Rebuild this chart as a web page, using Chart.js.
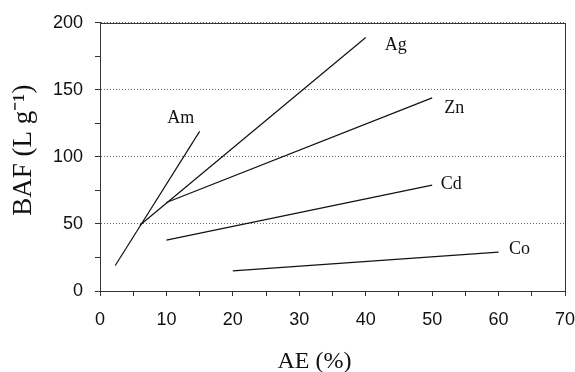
<!DOCTYPE html>
<html>
<head>
<meta charset="utf-8">
<script src="https://cdn.jsdelivr.net/npm/chart.js@4/dist/chart.umd.min.js"></script>
<style>
  html, body { margin: 0; padding: 0; background: #fff; }
  #wrap { width: 575px; height: 372px; }
</style>
</head>
<body>
<div id="wrap"><canvas id="chart-area"></canvas></div>
<script>
// series: AE (%) -> BAF (L g-1)
var elements = ['Am', 'Ag', 'Zn', 'Cd', 'Co'];
var amAE = [2.3, 15];
var amBAF = [19, 119];
var agAE = [6, 40];
var agBAF = [49, 189];
var znAE = [10, 50];
var znBAF = [66, 144];
var cdAE = [10, 50];
var cdBAF = [38, 79];
var coAE = [20, 60];
var coBAF = [15, 29];

// label offset from the line end, in px
var labelShift = {
  Am: [-19, -13],
  Ag: [30, 8],
  Zn: [22, 10],
  Cd: [19, -1],
  Co: [21, -3]
};

function pts(xs, ys) {
  return xs.map(function (x, i) { return { x: x, y: ys[i] }; });
}

var series = [pts(amAE, amBAF), pts(agAE, agBAF), pts(znAE, znBAF), pts(cdAE, cdBAF), pts(coAE, coBAF)];

var lineLabels = {
  id: 'lineLabels',
  afterDatasetsDraw: function (chart) {
    var ctx = chart.ctx;
    var xs = chart.scales.x, ys = chart.scales.y;
    ctx.save();
    ctx.fillStyle = '#111';
    ctx.font = '18px "Liberation Serif", "Times New Roman", serif';
    ctx.textAlign = 'center';
    ctx.textBaseline = 'middle';
    chart.data.datasets.forEach(function (ds) {
      var last = ds.data[ds.data.length - 1];
      var s = labelShift[ds.label];
      ctx.fillText(ds.label, xs.getPixelForValue(last.x) + s[0], ys.getPixelForValue(last.y) + s[1]);
    });
    // frame
    var a = chart.chartArea;
    ctx.strokeStyle = '#333';
    ctx.lineWidth = 1;
    ctx.strokeRect(Math.round(a.left) + 0.5, Math.round(a.top) + 0.5, Math.round(a.right - a.left), Math.round(a.bottom - a.top));
    ctx.restore();
  }
};

var tickFont = { family: '"Liberation Sans", Arial, sans-serif', size: 18 };

var config = {
  type: 'scatter',
  data: {
    datasets: series.map(function (d, i) {
      return {
        label: elements[i],
        data: d,
        showLine: true,
        borderColor: '#111',
        borderWidth: 1.2,
        pointRadius: 0,
        fill: false
      };
    })
  },
  options: {
    responsive: true,
    maintainAspectRatio: false,
    animation: false,
    layout: { padding: { top: 20, right: 0, left: 0, bottom: 0 } },
    plugins: {
      legend: { display: false },
      tooltip: { enabled: false }
    },
    scales: {
      x: {
        type: 'linear',
        min: 0,
        max: 70,
        border: { display: true, color: '#333' },
        grid: {
          drawOnChartArea: false,
          tickLength: 5,
          tickColor: '#333'
        },
        ticks: {
          stepSize: 5,
          autoSkip: false,
          maxRotation: 0,
          padding: 13,
          color: '#111',
          font: tickFont,
          callback: function (v) { return v % 10 === 0 ? v : ''; }
        },
        title: {
          display: true,
          text: 'AE (%)\u2003\u2002',
          color: '#111',
          padding: { top: 0, bottom: -4 },
          font: { family: '"Liberation Serif", "Times New Roman", serif', size: 24 }
        },
        afterFit: function (s) {
          s.height = 81;
          s.paddingRight = 10;
        }
      },
      y: {
        min: 0,
        max: 200,
        border: { display: true, color: '#333', dash: [1, 2] },
        grid: {
          tickLength: 5,
          tickColor: '#333',
          color: function (c) {
            return c.tick && c.tick.value % 50 === 0 ? '#666' : 'rgba(0,0,0,0)';
          },
          lineWidth: 1
        },
        ticks: {
          stepSize: 25,
          autoSkip: false,
          padding: 12,
          color: '#111',
          font: tickFont,
          callback: function (v) { return v % 50 === 0 ? v : ''; }
        },
        title: {
          display: true,
          text: '\u2002BAF (L g\u207B\u00B9)',
          color: '#111',
          padding: { top: 8, bottom: 0 },
          font: { family: '"Liberation Serif", "Times New Roman", serif', size: 27 }
        },
        afterFit: function (s) { s.width = 100; }
      }
    }
  },
  plugins: [lineLabels]
};

window.onload = function () {
  var ctx = document.getElementById('chart-area').getContext('2d');
  window.myChart = new Chart(ctx, config);
};
</script>
</body>
</html>
